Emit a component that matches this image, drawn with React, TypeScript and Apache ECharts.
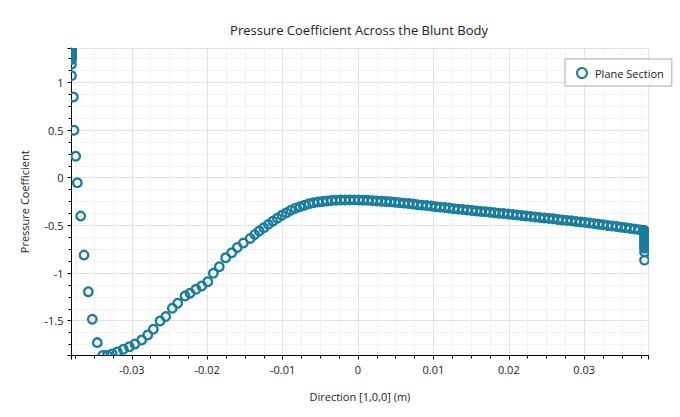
import React, { useEffect, useRef } from 'react';
import * as echarts from 'echarts';

const TITLE = 'Pressure Coefficient Across the Blunt Body';
const SERIES_NAME = 'Plane Section';
const X_NAME = 'Direction [1,0,0] (m)';
const Y_NAME = 'Pressure Coefficient';

const X_MIN = -0.038;
const X_MAX = 0.0385;
const Y_MIN = -1.865;
const Y_MAX = 1.36;

// front (stagnation) face of the body
const frontFaceX = -0.038;
const frontFaceCp = [1.36, 1.35, 1.34, 1.33, 1.32, 1.31, 1.3, 1.29, 1.28, 1.27, 1.26, 1.25, 1.24, 1.19, 1.07];

// points along the side of the body
const surfaceX = [
  -0.03776, -0.03767, -0.03744, -0.03723, -0.03678, -0.03634, -0.03577, -0.03524, -0.03458, -0.03386,
  -0.03325, -0.03259, -0.03192, -0.03113, -0.03033, -0.02958, -0.02869, -0.02789, -0.02715, -0.02626,
  -0.0255, -0.02463, -0.02391, -0.02294, -0.02228, -0.02149, -0.02073, -0.01993, -0.01919, -0.0184,
  -0.01755, -0.01675, -0.01601, -0.01521, -0.0143, -0.0137, -0.0131, -0.0125, -0.0119, -0.0113,
  -0.0107, -0.0101, -0.0095, -0.0089, -0.0083, -0.0077, -0.0071, -0.0065, -0.0059, -0.0053,
  -0.0047, -0.0041, -0.0035, -0.0029, -0.0023, -0.0017, -0.0011, -0.0005, 0.0001, 0.0007,
  0.0013, 0.0019, 0.0025, 0.0031, 0.0037, 0.0043, 0.0049, 0.0055, 0.0061, 0.0067,
  0.0073, 0.0079, 0.0085, 0.0091, 0.0097, 0.0103, 0.0109, 0.0115, 0.0121, 0.0127,
  0.0133, 0.0139, 0.0145, 0.0151, 0.0157, 0.0163, 0.0169, 0.0175, 0.0181, 0.0187,
  0.0193, 0.0199, 0.0205, 0.0211, 0.0217, 0.0223, 0.0229, 0.0235, 0.0241, 0.0247,
  0.0253, 0.0259, 0.0265, 0.0271, 0.0277, 0.0283, 0.0289, 0.0295, 0.0301, 0.0307,
  0.0313, 0.0319, 0.0325, 0.0331, 0.0337, 0.0343, 0.0349, 0.0355, 0.0361, 0.0367,
  0.0373, 0.0379,
];
const surfaceCp = [
  0.846, 0.497, 0.225, -0.054, -0.403, -0.812, -1.197, -1.485, -1.73, -1.865,
  -1.862, -1.849, -1.828, -1.8, -1.773, -1.745, -1.703, -1.65, -1.59, -1.503,
  -1.457, -1.369, -1.317, -1.241, -1.213, -1.171, -1.136, -1.091, -1.003, -0.934,
  -0.84, -0.788, -0.732, -0.686, -0.637, -0.597, -0.56, -0.525, -0.49, -0.457,
  -0.425, -0.395, -0.369, -0.341, -0.321, -0.304, -0.289, -0.274, -0.264, -0.255,
  -0.249, -0.244, -0.24, -0.237, -0.235, -0.234, -0.233, -0.233, -0.234, -0.236,
  -0.238, -0.241, -0.244, -0.247, -0.25, -0.253, -0.257, -0.262, -0.267, -0.272,
  -0.277, -0.283, -0.288, -0.293, -0.298, -0.304, -0.309, -0.314, -0.319, -0.325,
  -0.33, -0.335, -0.339, -0.344, -0.349, -0.354, -0.358, -0.363, -0.368, -0.373,
  -0.377, -0.382, -0.387, -0.392, -0.397, -0.401, -0.406, -0.412, -0.417, -0.422,
  -0.427, -0.432, -0.438, -0.443, -0.448, -0.453, -0.459, -0.464, -0.469, -0.475,
  -0.482, -0.488, -0.494, -0.501, -0.507, -0.513, -0.519, -0.526, -0.532, -0.538,
  -0.545, -0.551,
];

// rear (base) face of the body
const rearFaceX = 0.038;
const rearFaceCp = [-0.56, -0.58, -0.6, -0.62, -0.64, -0.66, -0.68, -0.7, -0.72, -0.74, -0.78, -0.865];

const COLOR = '#1a7c9d';
const FONT = 'Open Sans';

export default function App() {
  const ref = useRef<HTMLDivElement>(null);

  useEffect(() => {
    if (!ref.current) return;
    const chart = echarts.init(ref.current, undefined, { renderer: 'svg' });

    const data: number[][] = [
      ...frontFaceCp.map((cp) => [frontFaceX, cp]),
      ...surfaceX.map((x, i) => [x, surfaceCp[i]]),
      ...rearFaceCp.map((cp) => [rearFaceX, cp]),
    ];

    const axisCommon = {
      type: 'value' as const,
      nameLocation: 'middle' as const,
      nameTextStyle: { fontSize: 11, color: '#222', fontFamily: FONT },
      axisLine: { show: true, onZero: false, lineStyle: { color: '#000', width: 1 } },
      axisTick: { show: true, length: 4, lineStyle: { color: '#000', width: 1 } },
      minorTick: { show: true, splitNumber: 4, length: 3, lineStyle: { color: '#000', width: 1 } },
      splitLine: { show: true, lineStyle: { color: '#e2e2e2', width: 1 } },
      minorSplitLine: { show: true, lineStyle: { color: '#f2f2f2', width: 1 } },
      axisLabel: {
        showMinLabel: false,
        showMaxLabel: false,
        fontSize: 11,
        color: '#222',
        fontFamily: FONT,
      },
    };

    chart.setOption({
      animation: false,
      backgroundColor: '#fff',
      textStyle: { fontFamily: FONT },
      title: {
        text: TITLE,
        left: 359,
        top: 23,
        textAlign: 'center',
        padding: 0,
        textStyle: { fontSize: 13, fontWeight: 'normal', color: '#222', fontFamily: FONT },
      },
      legend: {
        left: 565,
        top: 59,
        orient: 'vertical',
        padding: [8, 8, 7, 11],
        itemWidth: 10,
        itemHeight: 10,
        borderColor: '#aaa',
        borderWidth: 1,
        borderRadius: 0,
        backgroundColor: '#fff',
        textStyle: { fontSize: 11, color: '#222', fontFamily: FONT, padding: [0, 0, 0, 3] },
        data: [
          {
            name: SERIES_NAME,
            icon: 'circle',
            itemStyle: { color: '#fff', borderColor: COLOR, borderWidth: 2 },
          },
        ],
      },
      grid: { left: 71.5, right: 31.7, top: 48, bottom: 61.5 },
      xAxis: {
        ...axisCommon,
        min: X_MIN,
        max: X_MAX,
        splitNumber: 8,
        name: X_NAME,
        nameGap: 35,
        axisLabel: { ...axisCommon.axisLabel, margin: 8 },
      },
      yAxis: {
        ...axisCommon,
        min: Y_MIN,
        max: Y_MAX,
        splitNumber: 5,
        name: Y_NAME,
        nameGap: 42,
        axisLabel: { ...axisCommon.axisLabel, margin: 8 },
      },
      series: [
        {
          type: 'custom',
          name: SERIES_NAME,
          clip: true,
          data,
          encode: { x: 0, y: 1 },
          itemStyle: { color: COLOR },
          renderItem: (params: any, api: any) => {
            const p = api.coord([api.value(0), api.value(1)]);
            return {
              type: 'circle',
              shape: { cx: p[0], cy: p[1], r: 4.3 },
              style: { fill: 'none', stroke: COLOR, lineWidth: 2.3 },
            };
          },
        },
      ],
    });

    return () => chart.dispose();
  }, []);

  return (
    <div
      ref={ref}
      style={{ position: 'absolute', left: 0, top: 0, width: 680, height: 417 }}
    />
  );
}
